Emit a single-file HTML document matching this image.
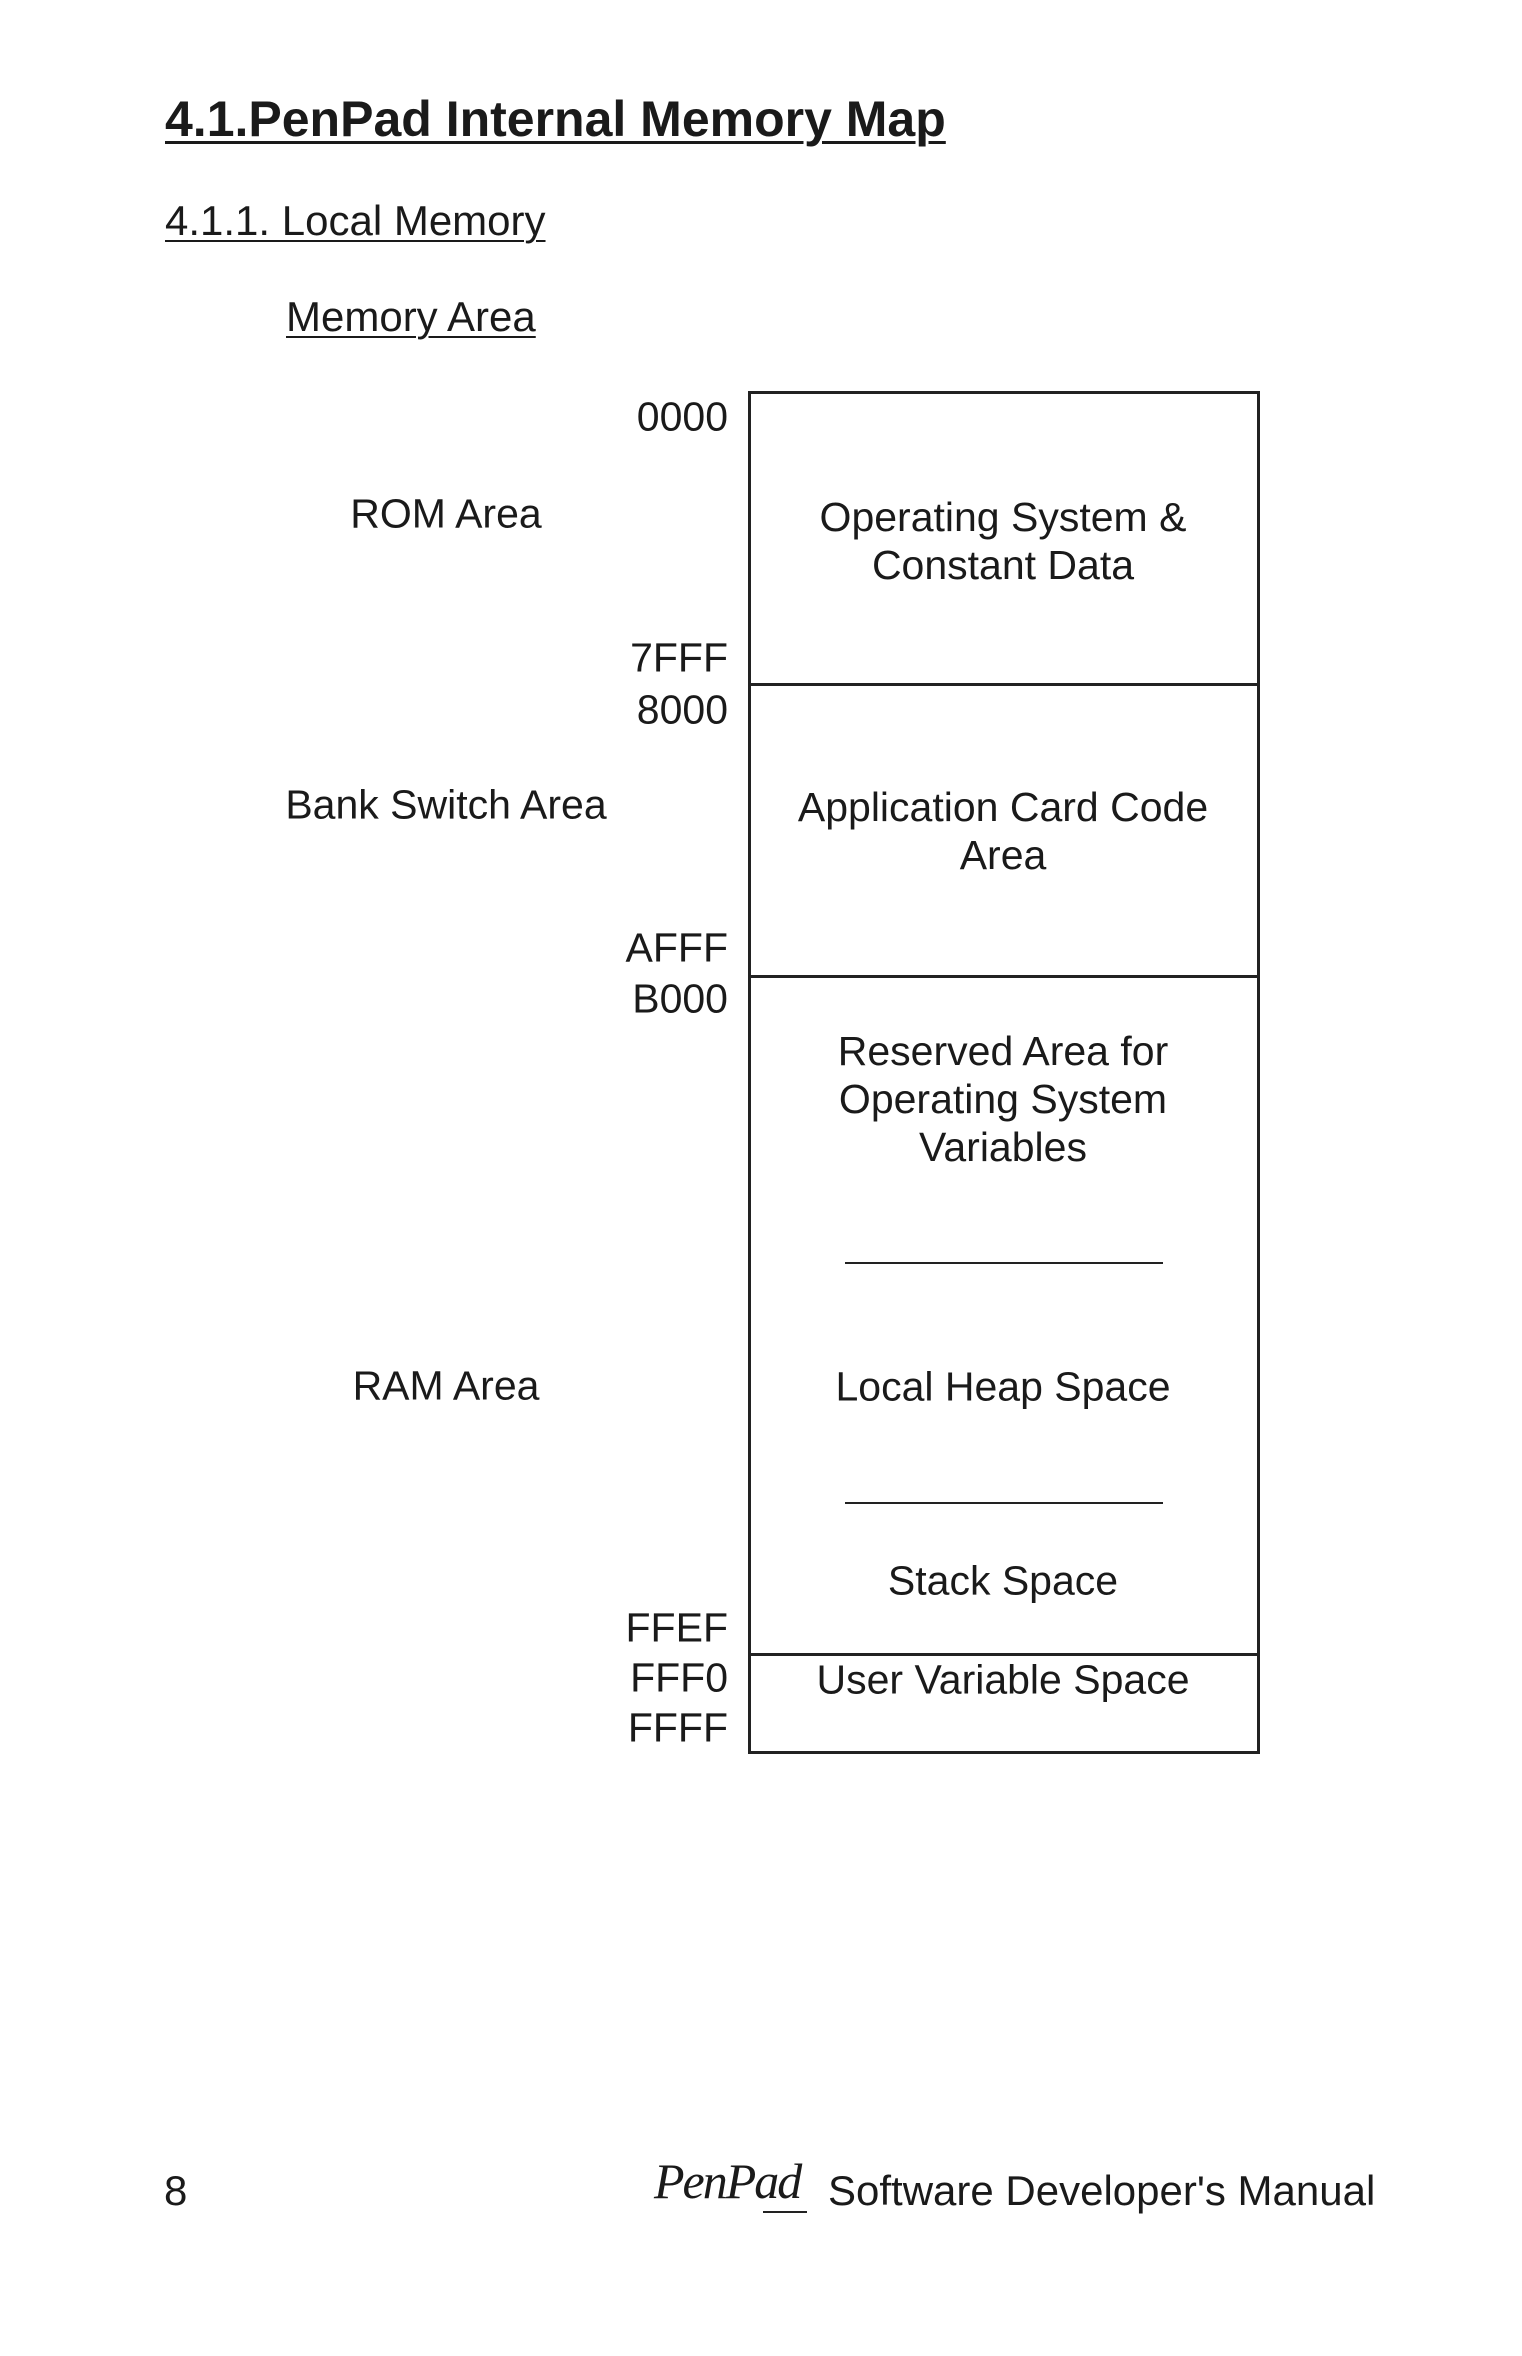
<!DOCTYPE html>
<html><head><meta charset="utf-8"><style>
html,body{margin:0;padding:0;background:#fff}
body{width:1522px;height:2356px;position:relative;overflow:hidden;font-family:"Liberation Sans",Arial,sans-serif;color:#1a1a1a}
.t{position:absolute;white-space:nowrap;font-size:41px;line-height:1}
.c{transform:translate(-50%,-50%);text-align:center}
.r{transform:translateY(-50%);text-align:right}
.l{position:absolute;background:#222}
</style></head><body>
<div class="t" style="left:165px;top:94px;font-size:50px;font-weight:bold;text-decoration:underline;text-decoration-thickness:3px;text-underline-offset:5px">4.1.PenPad Internal Memory Map</div>
<div class="t" style="left:165px;top:200px;font-size:42px;text-decoration:underline;text-decoration-thickness:2px;text-underline-offset:5px">4.1.1. Local Memory</div>
<div class="t" style="left:286px;top:296px;font-size:42px;text-decoration:underline;text-decoration-thickness:2px;text-underline-offset:5px">Memory Area</div>

<div style="position:absolute;left:748px;top:391px;width:506px;height:1357px;border:3px solid #222"></div>
<div class="l" style="left:748px;top:683px;width:511px;height:3px"></div>
<div class="l" style="left:748px;top:975px;width:511px;height:3px"></div>
<div class="l" style="left:748px;top:1653px;width:511px;height:3px"></div>
<div class="l" style="left:845px;top:1262px;width:318px;height:2px"></div>
<div class="l" style="left:845px;top:1502px;width:318px;height:2px"></div>

<div class="t r" style="right:794px;top:417px">0000</div>
<div class="t r" style="right:794px;top:658px">7FFF</div>
<div class="t r" style="right:794px;top:710px">8000</div>
<div class="t r" style="right:794px;top:948px">AFFF</div>
<div class="t r" style="right:794px;top:999px">B000</div>
<div class="t r" style="right:794px;top:1628px">FFEF</div>
<div class="t r" style="right:794px;top:1678px">FFF0</div>
<div class="t r" style="right:794px;top:1728px">FFFF</div>

<div class="t c" style="left:446px;top:514px">ROM Area</div>
<div class="t c" style="left:446px;top:805px">Bank Switch Area</div>
<div class="t c" style="left:446px;top:1386px">RAM Area</div>

<div class="t c" style="left:1003px;top:541px;line-height:48px">Operating System &amp;<br>Constant Data</div>
<div class="t c" style="left:1003px;top:831px;line-height:48px">Application Card Code<br>Area</div>
<div class="t c" style="left:1003px;top:1099px;line-height:48px">Reserved Area for<br>Operating System<br>Variables</div>
<div class="t c" style="left:1003px;top:1387px">Local Heap Space</div>
<div class="t c" style="left:1003px;top:1581px">Stack Space</div>
<div class="t c" style="left:1003px;top:1680px">User Variable Space</div>

<div class="t" style="left:164px;top:2170px;font-size:42px">8</div>
<div class="t" style="left:654px;top:2156px;font-size:50px;font-family:'Liberation Serif',serif;font-style:italic;letter-spacing:-2px">PenPad</div>
<div class="l" style="left:763px;top:2211px;width:44px;height:2px"></div>
<div class="t" style="left:828px;top:2170px;font-size:42px">Software Developer's Manual</div>
</body></html>
